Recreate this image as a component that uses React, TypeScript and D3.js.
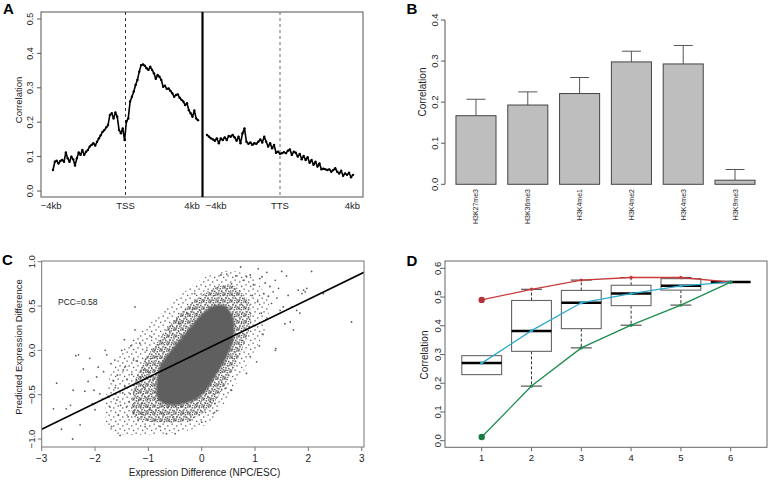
import React from 'react';
import * as d3 from 'd3';

const FONT = '"Liberation Sans", Arial, Helvetica, sans-serif';
const INK = '#222';

// ---------- Panel A data ----------
const tssCorr = [
  0.061, 0.085, 0.088, 0.080, 0.087, 0.090, 0.085, 0.112, 0.095, 0.085,
  0.100, 0.092, 0.074, 0.095, 0.112, 0.105, 0.119, 0.105, 0.114, 0.119,
  0.129, 0.134, 0.139, 0.132, 0.143, 0.153, 0.162, 0.172, 0.177, 0.185,
  0.192, 0.221, 0.226, 0.211, 0.228, 0.216, 0.177, 0.168, 0.182, 0.148,
  0.202, 0.211, 0.260, 0.274, 0.289, 0.308, 0.323, 0.347, 0.366, 0.368,
  0.364, 0.357, 0.352, 0.361, 0.352, 0.342, 0.326, 0.337, 0.332, 0.323,
  0.303, 0.306, 0.297, 0.298, 0.291, 0.284, 0.274, 0.279, 0.281, 0.271,
  0.265, 0.260, 0.250, 0.255, 0.235, 0.226, 0.216, 0.234, 0.211, 0.206,
];
const ttsCorr = [
  0.163, 0.158, 0.153, 0.150, 0.146, 0.153, 0.139, 0.153, 0.148, 0.156,
  0.148, 0.160, 0.158, 0.163, 0.156, 0.146, 0.158, 0.139, 0.168, 0.182,
  0.143, 0.137, 0.141, 0.134, 0.139, 0.137, 0.143, 0.150, 0.141, 0.158,
  0.143, 0.129, 0.139, 0.124, 0.134, 0.111, 0.114, 0.108, 0.110, 0.113,
  0.110, 0.117, 0.121, 0.105, 0.114, 0.111, 0.100, 0.108, 0.092, 0.102,
  0.090, 0.098, 0.082, 0.090, 0.076, 0.085, 0.071, 0.080, 0.063, 0.065,
  0.063, 0.061, 0.063, 0.056, 0.061, 0.066, 0.056, 0.051, 0.059, 0.044,
  0.051, 0.047, 0.053, 0.040, 0.047,
];
const aYTicks = [0, 0.1, 0.2, 0.3, 0.4, 0.5];
const tssLabels = ['−4kb', 'TSS', '4kb'];
const tssLabelKb = [-4.1, 0, 3.67];
const ttsLabels = ['−4kb', 'TTS', '4kb'];
const ttsLabelKb = [-3.5, 0, 3.97];

// ---------- Panel B data ----------
const marks = ['H3K27me3', 'H3K36me3', 'H3K4me1', 'H3K4me2', 'H3K4me3', 'H3K9me3'];
const markCorr = [0.167, 0.193, 0.221, 0.298, 0.293, 0.010];
const markErr = [0.040, 0.032, 0.039, 0.026, 0.045, 0.026];
const bYTicks = [0, 0.1, 0.2, 0.3, 0.4];

// ---------- Panel C data ----------
const cXTicks = [-3, -2, -1, 0, 1, 2, 3];
const cYTicks = [-1, -0.5, 0, 0.5, 1];
const regSlope = 0.293;
const regIntercept = -0.011;
const pccText = 'PCC=0.58';
const scatterPts: [number, number][] = [
  [-2.72, -0.37], [-2.78, -0.66], [-2.63, -0.89], [-2.54, -0.66], [-2.46, -0.62], [-2.42, -1.0],
  [-2.41, -0.45], [-2.36, -0.06], [-2.31, -0.05], [-2.28, -0.84], [-2.22, -0.21], [-2.19, -0.46],
  [-2.13, -0.35], [-2.10, -0.09], [-2.05, -0.60], [-2.00, -0.67], [-1.94, -0.19], [-1.91, -0.49],
  [-1.84, -0.24], [-1.81, 0.0], [-1.78, -0.05], [-1.75, -0.52], [-1.72, -0.64], [-1.69, -0.86],
  [-1.66, -0.34], [-1.63, -0.11], [-1.59, -0.56], [-1.56, -0.73], [-1.53, -0.96], [-1.50, 0.0],
  [-1.47, -0.22], [-1.44, -0.41], [-1.41, -0.64], [-1.38, -0.75], [-1.34, -0.49], [-1.28, -0.11],
  [-1.25, 0.49], [-1.25, 0.23], [-1.22, -0.34], [-1.19, -0.79], [-1.16, 0.08], [-1.13, -0.60],
  [-1.09, -0.22], [-1.06, -0.86], [-1.03, 0.0], [-1.00, -0.52], [-0.97, -0.67], [-0.94, 0.15],
  [-0.91, -0.34], [-0.88, -0.79], [-0.84, -0.07], [-0.81, -0.56], [-0.78, -0.86], [-0.72, -0.71],
  [-0.66, -0.94], [-0.63, -0.64], [-0.59, 0.27], [-0.53, -0.75], [-0.50, -0.94], [-0.47, 0.34],
  [-0.41, 0.30], [-0.38, -0.64], [-0.34, -0.71], [-0.28, 0.42], [-0.22, -0.79], [-0.16, 0.47],
  [-0.13, 0.64], [-0.09, -0.60], [-0.03, 0.45],
  [-1.62, -0.42], [-1.58, -0.28], [-1.52, -0.62], [-1.48, -0.48], [-1.43, -0.18], [-1.40, -0.33],
  [-1.36, -0.58], [-1.31, -0.27], [-1.27, -0.68], [-1.24, -0.45], [-1.21, -0.12], [-1.18, -0.56],
  [-1.15, -0.30], [-1.12, -0.72], [-1.08, -0.42], [-1.05, -0.10], [-1.02, -0.64], [-0.99, -0.25],
  [-1.7, -0.15], [-1.86, -0.55], [-1.97, -0.30], [-2.02, -0.45], [-1.45, 0.12], [-1.33, 0.05],
  [0.36, 0.85], [0.47, 0.86], [0.56, 0.75], [0.64, 0.84], [0.73, 0.94], [0.78, 0.79], [0.84, 0.83],
  [0.91, 0.85], [0.97, 0.74], [1.06, 0.92], [1.09, 0.81], [1.13, 0.83], [1.16, 0.64], [1.19, 0.76],
  [1.22, 0.88], [1.25, 0.61], [1.28, 0.72], [1.31, 0.53], [1.34, 0.66], [1.38, 0.79], [1.41, 0.59],
  [1.44, 0.70], [1.47, 0.45], [1.50, 0.89], [1.53, 0.49], [1.56, 0.30], [1.59, 0.84], [1.62, 0.62],
  [1.66, 0.32], [1.69, 0.49], [1.72, 0.23], [1.78, 0.45], [1.81, 0.68], [1.84, 0.42], [1.88, 0.64],
  [1.91, 0.68], [1.94, 0.66], [1.97, 0.70], [2.06, 0.89], [2.28, 0.64], [2.81, 0.32], [1.38, 0.0],
  [1.39, 0.02], [1.03, -0.13], [0.91, -0.07], [0.84, -0.26], [0.56, -0.45], [0.44, -0.43],
  [0.25, -0.60], [0.22, -0.71], [0.16, -0.58], [0.0, -0.81], [0.28, -0.68],
  [1.05, 0.55], [1.12, 0.42], [1.0, 0.28], [1.15, 0.18], [1.08, 0.05], [0.95, 0.62], [1.2, 0.34],
];
// outlines of the point cloud at three densities (data units)
const cloudSolid: [number, number][] = [
  [-0.85, -0.5], [-0.8, -0.2], [-0.55, 0.02], [-0.3, 0.2], [-0.05, 0.38], [0.2, 0.5], [0.45, 0.5],
  [0.6, 0.35], [0.6, 0.12], [0.45, -0.1], [0.25, -0.3], [0.05, -0.48], [-0.2, -0.58], [-0.5, -0.62],
  [-0.72, -0.6],
];
const cloudFringe: [number, number][] = [
  [-1.3, -0.72], [-1.25, -0.35], [-1.0, -0.05], [-0.7, 0.2], [-0.4, 0.42], [-0.05, 0.6], [0.3, 0.72],
  [0.62, 0.72], [0.88, 0.55], [0.92, 0.3], [0.78, 0.05], [0.58, -0.22], [0.38, -0.45], [0.15, -0.65],
  [-0.2, -0.78], [-0.6, -0.82], [-1.0, -0.8],
];
const cloudSparse: [number, number][] = [
  [-1.8, -0.85], [-1.75, -0.35], [-1.5, -0.02], [-1.15, 0.2], [-0.75, 0.42], [-0.35, 0.65], [0.05, 0.82],
  [0.5, 0.9], [0.95, 0.82], [1.25, 0.55], [1.2, 0.25], [0.95, -0.05], [0.65, -0.38], [0.4, -0.62],
  [0.08, -0.84], [-0.4, -0.92], [-1.0, -0.95], [-1.5, -0.95],
];

// ---------- Panel D data ----------
const dGroups = [1, 2, 3, 4, 5, 6];
const redSeries = [0.49, 0.527, 0.559, 0.568, 0.568, 0.552];
const blueSeries = [0.27, 0.383, 0.48, 0.512, 0.539, 0.552];
const greenSeries = [0.013, 0.19, 0.323, 0.402, 0.472, 0.552];
const whiskLow = [0.23, 0.19, 0.323, 0.402, 0.472, 0.552];
const boxQ1 = [0.23, 0.311, 0.39, 0.47, 0.524, 0.552];
const boxMed = [0.27, 0.382, 0.48, 0.512, 0.539, 0.552];
const boxQ3 = [0.296, 0.488, 0.523, 0.541, 0.564, 0.552];
const whiskHigh = [0.296, 0.527, 0.559, 0.568, 0.568, 0.552];
const dYTicks = [0, 0.1, 0.2, 0.3, 0.4, 0.5, 0.6];

const fmt1 = (v: number) => d3.format('.1f')(v).replace('-', '−');

function RotText({ x, y, children, size = 9.5, anchor = 'middle' }: any) {
  return (
    <text transform={`translate(${x},${y}) rotate(-90)`} textAnchor={anchor}
      dominantBaseline="central" fontSize={size} fill={INK}>{children}</text>
  );
}

function PanelA() {
  const y = d3.scaleLinear().domain([0, 0.5]).range([191, 19]);
  const xL = d3.scaleLinear().domain([-4, 4]).range([53, 198]);
  const xR = d3.scaleLinear().domain([-4, 4]).range([207, 353]);
  const box = { l: 41, r: 363, t: 12, b: 197 };
  const kb = (i: number, n: number) => -4 + (8 * i) / (n - 1);
  const ptsL = tssCorr.map((v, i) => [xL(kb(i, tssCorr.length)), y(v)] as [number, number]);
  const ptsR = ttsCorr.map((v, i) => [xR(kb(i, ttsCorr.length)), y(v)] as [number, number]);
  const line = d3.line();
  const divX = (xL(4) + xR(-4)) / 2;
  return (
    <g>
      <text x={3} y={14} fontSize={15} fontWeight="bold" fill="#000">A</text>
      <rect x={box.l} y={box.t} width={box.r - box.l} height={box.b - box.t} fill="none" stroke="#555" />
      <line x1={xL(0)} x2={xL(0)} y1={box.t} y2={box.b} stroke="#333" strokeDasharray="3,3" />
      <line x1={xR(0)} x2={xR(0)} y1={box.t} y2={box.b} stroke="#666" strokeDasharray="3,3" />
      <line x1={divX} x2={divX} y1={box.t} y2={box.b} stroke="#000" strokeWidth={2.2} />
      <path d={line(ptsL) || ''} fill="none" stroke="#000" strokeWidth={1.6} strokeLinejoin="round" />
      <path d={line(ptsR) || ''} fill="none" stroke="#000" strokeWidth={1.6} strokeLinejoin="round" />
      {ptsL.map((p, i) => <circle key={'l' + i} cx={p[0]} cy={p[1]} r={1.2} fill="#000" />)}
      {ptsR.map((p, i) => <circle key={'r' + i} cx={p[0]} cy={p[1]} r={1.2} fill="#000" />)}
      {aYTicks.map((t) => (
        <g key={t}>
          <line x1={box.l - 4} x2={box.l} y1={y(t)} y2={y(t)} stroke="#555" />
          <RotText x={30} y={y(t)} size={9}>{fmt1(t)}</RotText>
        </g>
      ))}
      <RotText x={18} y={100} size={9.5}>Correlation</RotText>
      {tssLabels.map((s, i) => (
        <text key={'tl' + i} x={xL(tssLabelKb[i])} y={205} textAnchor="middle" dominantBaseline="central"
          fontSize={9.5} fill={INK}>{s}</text>
      ))}
      {ttsLabels.map((s, i) => (
        <text key={'tr' + i} x={xR(ttsLabelKb[i])} y={205} textAnchor="middle" dominantBaseline="central"
          fontSize={9.5} fill={INK}>{s}</text>
      ))}
    </g>
  );
}

function PanelB() {
  const y = d3.scaleLinear().domain([0, 0.4]).range([184.3, 20]);
  const x = d3.scaleBand().domain(marks).range([444.2, 766.8]).padding(0.227);
  const bw = x.bandwidth();
  const axX = 445;
  return (
    <g>
      <text x={406.5} y={14} fontSize={15} fontWeight="bold" fill="#000">B</text>
      <line x1={axX} x2={axX} y1={y(0)} y2={y(0.4)} stroke="#555" />
      {bYTicks.map((t) => (
        <g key={t}>
          <line x1={axX - 4} x2={axX} y1={y(t)} y2={y(t)} stroke="#555" />
          <RotText x={434} y={y(t)} size={9.5}>{fmt1(t)}</RotText>
        </g>
      ))}
      <RotText x={422} y={92} size={10}>Correlation</RotText>
      {marks.map((m, i) => {
        const x0 = x(m) as number;
        const cx = x0 + bw / 2;
        return (
          <g key={m}>
            <line x1={cx} x2={cx} y1={y(markCorr[i])} y2={y(markCorr[i] + markErr[i])} stroke="#555" />
            <line x1={cx - 9.5} x2={cx + 9.5} y1={y(markCorr[i] + markErr[i])} y2={y(markCorr[i] + markErr[i])} stroke="#555" />
            <rect x={x0} y={y(markCorr[i])} width={bw} height={y(0) - y(markCorr[i])} fill="#bebebe" stroke="#444" />
            <RotText x={cx} y={189} size={7} anchor="end">{m}</RotText>
          </g>
        );
      })}
    </g>
  );
}

function PanelC() {
  const x = d3.scaleLinear().domain([-3, 3]).range([41.7, 361.7]);
  const y = d3.scaleLinear().domain([-1, 1]).range([439, 261.7]);
  const box = { l: 41.7, r: 364, t: 261, b: 447 };
  const area = d3.line<[number, number]>().x((d) => x(d[0])).y((d) => y(d[1])).curve(d3.curveCardinalClosed.tension(0.2));
  const xs = [x.invert(box.l), x.invert(box.r)];
  const dot = '#5c5c5c';
  return (
    <g>
      <defs>
        <clipPath id="clipC"><rect x={box.l} y={box.t} width={box.r - box.l} height={box.b - box.t} /></clipPath>
        <pattern id="dotSparse" width={9} height={9} patternUnits="userSpaceOnUse">
          <rect x={0.5} y={0.5} width={1.3} height={1.3} fill={dot} />
          <rect x={5.1} y={2.3} width={1.3} height={1.3} fill={dot} />
          <rect x={2.4} y={5.2} width={1.3} height={1.3} fill={dot} />
          <rect x={7.0} y={6.8} width={1.3} height={1.3} fill={dot} />
        </pattern>
        <pattern id="dotMid" width={7} height={7} patternUnits="userSpaceOnUse">
          <rect x={0} y={0} width={1.5} height={1.5} fill={dot} />
          <rect x={2.6} y={1.0} width={1.5} height={1.5} fill={dot} />
          <rect x={5.1} y={0.3} width={1.5} height={1.5} fill={dot} />
          <rect x={1.2} y={3.1} width={1.5} height={1.5} fill={dot} />
          <rect x={4.0} y={3.7} width={1.5} height={1.5} fill={dot} />
          <rect x={0.3} y={5.5} width={1.5} height={1.4} fill={dot} />
          <rect x={2.9} y={5.9} width={1.5} height={1.0} fill={dot} />
          <rect x={5.5} y={5.2} width={1.4} height={1.5} fill={dot} />
        </pattern>
        <filter id="softC"><feGaussianBlur stdDeviation="1" /></filter>
      </defs>
      <text x={2} y={265} fontSize={15} fontWeight="bold" fill="#000">C</text>
      <g clipPath="url(#clipC)">
        <path d={area(cloudSparse) || ''} fill="url(#dotSparse)" />
        <path d={area(cloudFringe) || ''} fill="url(#dotMid)" />
        <path d={area(cloudSolid) || ''} fill="#5e5e5e" filter="url(#softC)" />
        {scatterPts.map((p, i) => <circle key={i} cx={x(p[0])} cy={y(p[1])} r={0.9} fill={dot} />)}
        <line x1={x(xs[0])} x2={x(xs[1])} y1={y(regIntercept + regSlope * xs[0])} y2={y(regIntercept + regSlope * xs[1])}
          stroke="#000" strokeWidth={1.6} />
      </g>
      <rect x={box.l} y={box.t} width={box.r - box.l} height={box.b - box.t} fill="none" stroke="#777" />
      <text x={58} y={302} fontSize={8.5} dominantBaseline="central" fill={INK}>{pccText}</text>
      {cXTicks.map((t) => (
        <g key={t}>
          <line x1={x(t)} x2={x(t)} y1={box.b} y2={box.b + 4} stroke="#777" />
          <text x={x(t)} y={458.5} textAnchor="middle" dominantBaseline="central" fontSize={10} fill={INK}>
            {String(t).replace('-', '−')}
          </text>
        </g>
      ))}
      {cYTicks.map((t) => (
        <g key={t}>
          <line x1={box.l - 4} x2={box.l} y1={y(t)} y2={y(t)} stroke="#777" />
          <RotText x={31.5} y={y(t)} size={9.5}>{fmt1(t)}</RotText>
        </g>
      ))}
      <text x={204.5} y={472} textAnchor="middle" dominantBaseline="central" fontSize={10} fill={INK}>
        Expression Difference (NPC/ESC)
      </text>
      <RotText x={18} y={347} size={9.5}>Predicted Expression Difference</RotText>
    </g>
  );
}

function PanelD() {
  const x = d3.scaleLinear().domain([1, 6]).range([481.7, 730.7]);
  const y = d3.scaleLinear().domain([0, 0.6]).range([440.7, 268.3]);
  const box = { l: 445, r: 767, t: 261, b: 447.3 };
  const hw = 0.4;
  const cap = 0.21;
  const mk = (vals: number[]) => d3.line<number>().x((_, i) => x(dGroups[i])).y((v) => y(v))(vals) || '';
  const red = '#c93a3a';
  const blue = '#2ea9cc';
  const green = '#1e8c4e';
  return (
    <g>
      <text x={406.5} y={266} fontSize={15} fontWeight="bold" fill="#000">D</text>
      <rect x={box.l} y={box.t} width={box.r - box.l} height={box.b - box.t} fill="none" stroke="#666" />
      {dGroups.map((g, i) => (
        <g key={g}>
          {whiskLow[i] < boxQ1[i] && (
            <>
              <line x1={x(g)} x2={x(g)} y1={y(boxQ1[i])} y2={y(whiskLow[i])} stroke="#333" strokeDasharray="3,2" />
              <line x1={x(g - cap)} x2={x(g + cap)} y1={y(whiskLow[i])} y2={y(whiskLow[i])} stroke="#333" />
            </>
          )}
          {whiskHigh[i] > boxQ3[i] && (
            <>
              <line x1={x(g)} x2={x(g)} y1={y(boxQ3[i])} y2={y(whiskHigh[i])} stroke="#333" strokeDasharray="3,2" />
              <line x1={x(g - cap)} x2={x(g + cap)} y1={y(whiskHigh[i])} y2={y(whiskHigh[i])} stroke="#333" />
            </>
          )}
          {boxQ3[i] > boxQ1[i] && (
            <rect x={x(g - hw)} y={y(boxQ3[i])} width={x(g + hw) - x(g - hw)} height={y(boxQ1[i]) - y(boxQ3[i])}
              fill="none" stroke="#666" strokeWidth={1.1} />
          )}
          <line x1={x(g - hw)} x2={x(g + hw)} y1={y(boxMed[i])} y2={y(boxMed[i])} stroke="#000" strokeWidth={2.5} />
        </g>
      ))}
      <path d={mk(redSeries)} fill="none" stroke={red} strokeWidth={1.3} />
      <path d={mk(blueSeries)} fill="none" stroke={blue} strokeWidth={1.3} />
      <path d={mk(greenSeries)} fill="none" stroke={green} strokeWidth={1.3} />
      {redSeries.map((v, i) => <circle key={'r' + i} cx={x(dGroups[i])} cy={y(v)} r={i === 0 ? 3.2 : 1.7} fill={i === 0 ? '#b3343a' : red} />)}
      {blueSeries.map((v, i) => <circle key={'b' + i} cx={x(dGroups[i])} cy={y(v)} r={1.7} fill={blue} />)}
      {greenSeries.map((v, i) => <circle key={'g' + i} cx={x(dGroups[i])} cy={y(v)} r={i === 0 ? 3.2 : 1.7} fill={i === 0 ? '#1a7a44' : green} />)}
      {dGroups.map((g) => (
        <g key={'t' + g}>
          <line x1={x(g)} x2={x(g)} y1={box.b} y2={box.b + 4} stroke="#666" />
          <text x={x(g)} y={457} textAnchor="middle" dominantBaseline="central" fontSize={9.5} fill={INK}>{g}</text>
        </g>
      ))}
      {dYTicks.map((t) => (
        <g key={t}>
          <line x1={box.l - 4} x2={box.l} y1={y(t)} y2={y(t)} stroke="#666" />
          <RotText x={437} y={y(t)} size={9.5}>{fmt1(t)}</RotText>
        </g>
      ))}
      <RotText x={424.5} y={355} size={10}>Correlation</RotText>
    </g>
  );
}

export default function App() {
  return (
    <div style={{ position: 'absolute', left: 0, top: 0, width: 770, height: 480, background: '#fff' }}>
      <svg width={770} height={480} style={{ display: 'block' }} fontFamily={FONT}>
        <rect width={770} height={480} fill="#fff" />
        <PanelA />
        <PanelB />
        <PanelC />
        <PanelD />
      </svg>
    </div>
  );
}
